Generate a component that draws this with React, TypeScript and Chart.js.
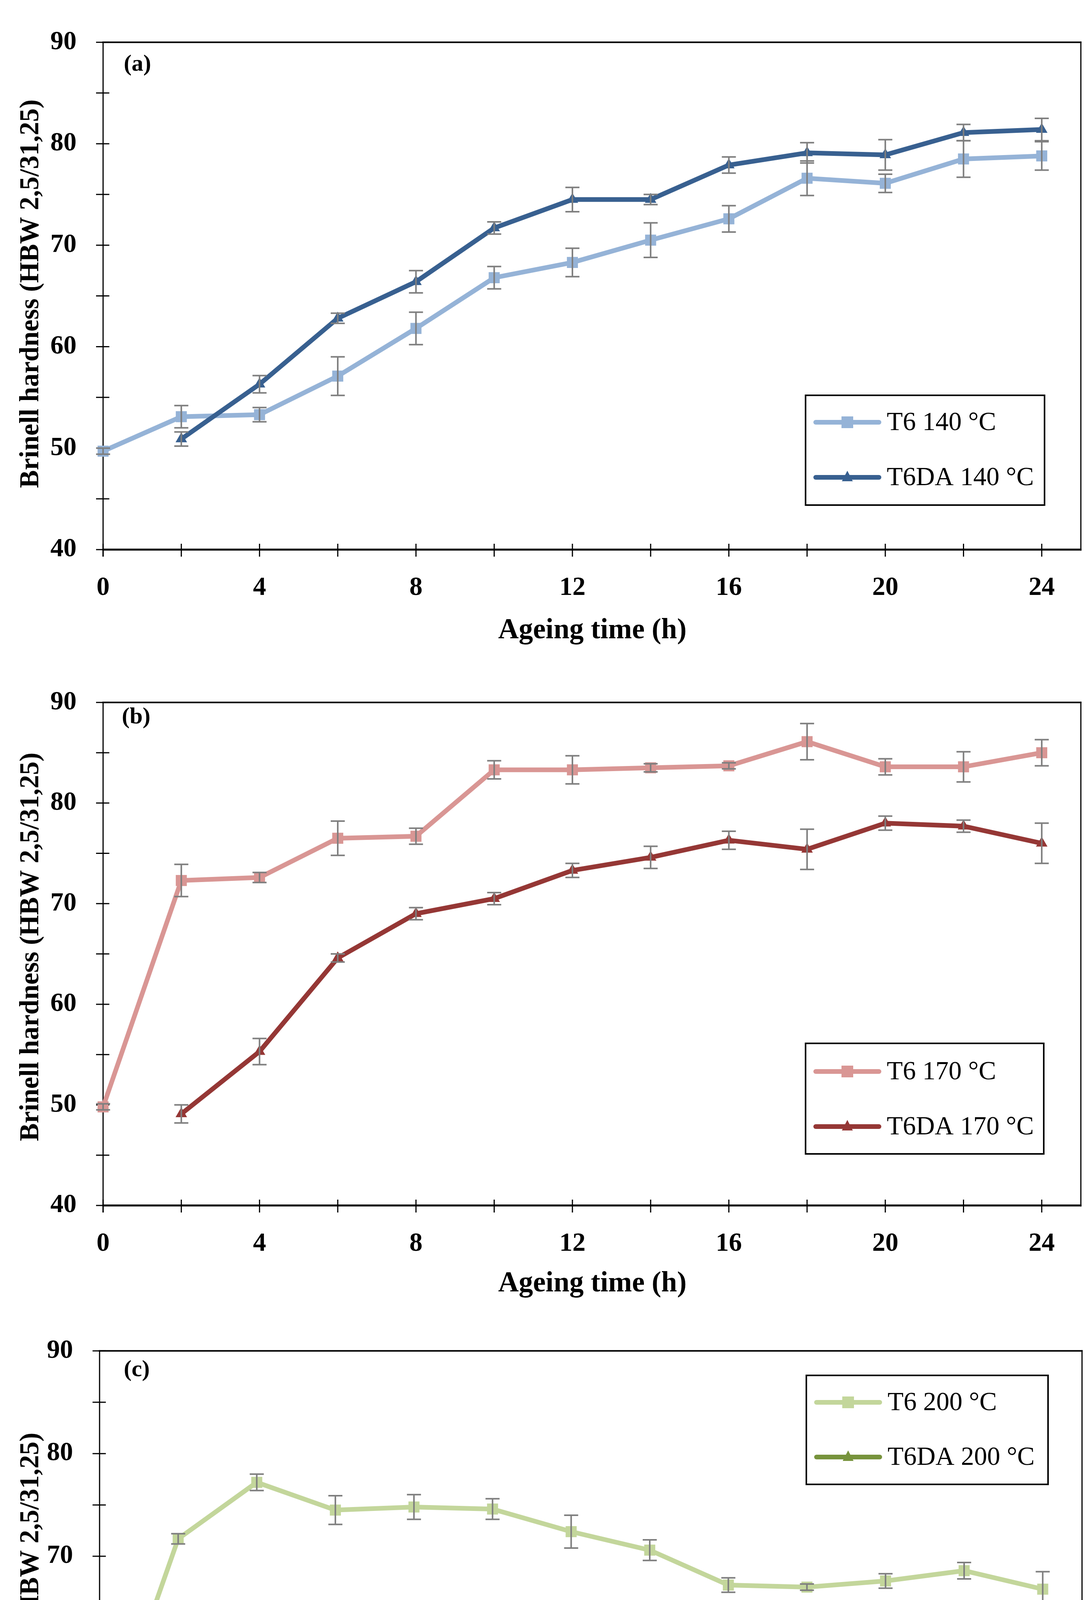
import React, { useEffect, useRef } from 'react';
import { Chart, registerables } from 'chart.js';

Chart.register(...registerables);

// ---------------- data ----------------
const hoursT6 = [0, 2, 4, 6, 8, 10, 12, 14, 16, 18, 20, 22, 24];
const hoursDA = [2, 4, 6, 8, 10, 12, 14, 16, 18, 20, 22, 24];

const xTickLabels = [0, 4, 8, 12, 16, 20, 24];
const xTickMarks = [0, 2, 4, 6, 8, 10, 12, 14, 16, 18, 20, 22, 24];
const yTickLabels = [40, 50, 60, 70, 80, 90];
const yTickMarks = [40, 45, 50, 55, 60, 65, 70, 75, 80, 85, 90];

const t6_140 = [49.7, 53.1, 53.3, 57.1, 61.8, 66.8, 68.3, 70.5, 72.6, 76.6, 76.1, 78.5, 78.8];
const t6_140Err = [0.3, 1.1, 0.7, 1.9, 1.6, 1.1, 1.4, 1.7, 1.3, 1.7, 0.9, 1.8, 1.4];
const t6da_140 = [50.9, 56.3, 62.8, 66.4, 71.7, 74.5, 74.5, 77.9, 79.1, 78.9, 81.1, 81.4];
const t6da_140Err = [0.7, 0.85, 0.5, 1.1, 0.6, 1.2, 0.5, 0.8, 1.0, 1.5, 0.8, 1.1];

const t6_170 = [49.8, 72.3, 72.6, 76.5, 76.7, 83.3, 83.3, 83.5, 83.7, 86.1, 83.6, 83.6, 85.0];
const t6_170Err = [0.3, 1.6, 0.5, 1.7, 0.8, 0.9, 1.4, 0.4, 0.3, 1.8, 0.8, 1.5, 1.3];
const t6da_170 = [49.1, 55.3, 64.6, 69.0, 70.5, 73.3, 74.6, 76.3, 75.4, 78.0, 77.7, 76.0];
const t6da_170Err = [0.9, 1.3, 0.4, 0.6, 0.6, 0.7, 1.1, 0.9, 2.0, 0.7, 0.6, 2.0];

const t6_200 = [49.9, 71.7, 77.2, 74.5, 74.8, 74.6, 72.4, 70.6, 67.2, 67.0, 67.6, 68.6, 66.8];
const t6_200Err = [0.3, 0.5, 0.8, 1.4, 1.2, 1.0, 1.6, 1.0, 0.7, 0.3, 0.7, 0.8, 1.7];
const t6da_200 = [46.0, 48.6, 56.8, 54.2, 54.1, 53.8, 52.6, 53.4, 54.2, 52.4, 54.1, 52.0];
const t6da_200Err = [0.6, 0.6, 0.9, 0.4, 1.0, 1.1, 0.6, 0.6, 0.4, 0.8, 0.8, 0.8];

const names140 = ['T6 140 \u00B0C', 'T6DA 140 \u00B0C'];
const names170 = ['T6 170 \u00B0C', 'T6DA 170 \u00B0C'];
const names200 = ['T6 200 \u00B0C', 'T6DA 200 \u00B0C'];

const xTitle = 'Ageing time (h)';
const yTitle = 'Brinell hardness (HBW 2,5/31,25)';

// ---------------- styling / layout ----------------
const W = 2794;
const FONT = "'Liberation Serif', 'Times New Roman', serif";
const ERR_COLOR = '#7f7f7f';

type Series = { name: string; color: string; style: 'rect' | 'triangle'; x: number[]; y: number[]; err: number[] };
type Panel = {
  tag: string;
  top: number;
  height: number;
  area: { top: number; bottom: number; left: number; right: number };
  xTitlePos: { x: number; y: number };
  yTitlePos: { x: number; y: number };
  tagPos: { x: number; y: number };
  legend: { x1: number; y1: number; x2: number; y2: number; rows: number[] };
  series: Series[];
};

const panels: Panel[] = [
  {
    tag: '(a)',
    top: 0,
    height: 1690,
    area: { top: 89, bottom: 1407, left: 264, right: 2768 },
    xTitlePos: { x: 1517, y: 1615 },
    yTitlePos: { x: 80, y: 752 },
    tagPos: { x: 317, y: 165 },
    legend: { x1: 2063, y1: 1012, x2: 2675, y2: 1293, rows: [1081, 1222] },
    series: [
      { name: names140[0], color: '#95b3d7', style: 'rect', x: hoursT6, y: t6_140, err: t6_140Err },
      { name: names140[1], color: '#386090', style: 'triangle', x: hoursDA, y: t6da_140, err: t6da_140Err },
    ],
  },
  {
    tag: '(b)',
    top: 1690,
    height: 1660,
    area: { top: 71, bottom: 1396, left: 264, right: 2768 },
    xTitlePos: { x: 1517, y: 1597 },
    yTitlePos: { x: 80, y: 734 },
    tagPos: { x: 312, y: 146 },
    legend: { x1: 2063, y1: 981, x2: 2673, y2: 1264, rows: [1053, 1194] },
    series: [
      { name: names170[0], color: '#d99694', style: 'rect', x: hoursT6, y: t6_170, err: t6_170Err },
      { name: names170[1], color: '#953735', style: 'triangle', x: hoursDA, y: t6da_170, err: t6da_170Err },
    ],
  },
  {
    tag: '(c)',
    top: 3350,
    height: 1693,
    area: { top: 81, bottom: 1423, left: 255, right: 2771 },
    xTitlePos: { x: 1430, y: 1610 },
    yTitlePos: { x: 80, y: 815 },
    tagPos: { x: 317, y: 157 },
    legend: { x1: 2065, y1: 171, x2: 2684, y2: 450, rows: [240, 380] },
    series: [
      { name: names200[0], color: '#c3d69b', style: 'rect', x: hoursT6, y: t6_200, err: t6_200Err },
      { name: names200[1], color: '#77933c', style: 'triangle', x: hoursDA, y: t6da_200, err: t6da_200Err },
    ],
  },
];

function drawMarker(ctx: CanvasRenderingContext2D, style: string, x: number, y: number, color: string) {
  ctx.save();
  ctx.fillStyle = color;
  if (style === 'rect') {
    ctx.fillRect(x - 15, y - 15, 30, 30);
  } else {
    ctx.beginPath();
    ctx.moveTo(x, y - 17);
    ctx.lineTo(x + 14, y + 10);
    ctx.lineTo(x - 14, y + 10);
    ctx.closePath();
    ctx.fill();
  }
  ctx.restore();
}

function makePlugin(p: Panel) {
  return {
    id: 'panelDecor' + p.tag,
    beforeDatasetsDraw(chart: any) {
      const ctx: CanvasRenderingContext2D = chart.ctx;
      const xs = chart.scales.x;
      const ys = chart.scales.y;
      const { left, right, top, bottom } = chart.chartArea;
      ctx.save();
      ctx.strokeStyle = '#000';
      ctx.lineCap = 'butt';
      // frame
      ctx.lineWidth = 4;
      ctx.beginPath(); ctx.moveTo(left - 2, top); ctx.lineTo(right + 1.5, top); ctx.stroke();
      ctx.lineWidth = 5;
      ctx.beginPath(); ctx.moveTo(left - 2, bottom); ctx.lineTo(right + 1.5, bottom); ctx.stroke();
      ctx.lineWidth = 3;
      ctx.beginPath(); ctx.moveTo(left, top); ctx.lineTo(left, bottom + 18); ctx.stroke();
      ctx.beginPath(); ctx.moveTo(right, top - 2); ctx.lineTo(right, bottom + 2.5); ctx.stroke();
      // tick marks crossing the axes
      ctx.lineWidth = 3;
      xTickMarks.forEach((v) => {
        const px = xs.getPixelForValue(v);
        ctx.beginPath(); ctx.moveTo(px, bottom - 15); ctx.lineTo(px, bottom + 18); ctx.stroke();
      });
      yTickMarks.forEach((v) => {
        const py = ys.getPixelForValue(v);
        ctx.beginPath(); ctx.moveTo(left - 18, py); ctx.lineTo(left + 16, py); ctx.stroke();
      });
      ctx.restore();
    },
    afterDatasetsDraw(chart: any) {
      const ctx: CanvasRenderingContext2D = chart.ctx;
      const xs = chart.scales.x;
      const ys = chart.scales.y;
      ctx.save();
      ctx.strokeStyle = ERR_COLOR;
      ctx.lineWidth = 4;
      ctx.lineCap = 'butt';
      p.series.forEach((s) => {
        s.y.forEach((v, i) => {
          const px = xs.getPixelForValue(s.x[i]);
          const hi = ys.getPixelForValue(v + s.err[i]);
          const lo = ys.getPixelForValue(v - s.err[i]);
          ctx.beginPath();
          ctx.moveTo(px, hi); ctx.lineTo(px, lo);
          ctx.moveTo(px - 18, hi); ctx.lineTo(px + 18, hi);
          ctx.moveTo(px - 18, lo); ctx.lineTo(px + 18, lo);
          ctx.stroke();
        });
      });
      ctx.restore();
    },
    afterDraw(chart: any) {
      const ctx: CanvasRenderingContext2D = chart.ctx;
      ctx.save();
      ctx.fillStyle = '#000';
      // axis titles
      ctx.font = `bold 73px ${FONT}`;
      ctx.textAlign = 'center';
      ctx.textBaseline = 'middle';
      ctx.fillText(xTitle, p.xTitlePos.x, p.xTitlePos.y);
      ctx.save();
      ctx.translate(p.yTitlePos.x, p.yTitlePos.y);
      ctx.rotate(-Math.PI / 2);
      ctx.font = `bold 69px ${FONT}`;
      ctx.fillText(yTitle, 0, 0);
      ctx.restore();
      // panel tag
      ctx.font = `bold 60px ${FONT}`;
      ctx.textAlign = 'left';
      ctx.fillText(p.tag, p.tagPos.x, p.tagPos.y);
      // legend
      const L = p.legend;
      ctx.fillStyle = '#fff';
      ctx.fillRect(L.x1, L.y1, L.x2 - L.x1, L.y2 - L.y1);
      ctx.strokeStyle = '#000';
      ctx.lineWidth = 4;
      ctx.strokeRect(L.x1, L.y1, L.x2 - L.x1, L.y2 - L.y1);
      p.series.forEach((s, i) => {
        const ry = L.rows[i];
        const lx1 = L.x1 + 26;
        const lx2 = L.x1 + 188;
        ctx.strokeStyle = s.color;
        ctx.lineWidth = 12;
        ctx.lineCap = 'round';
        ctx.beginPath(); ctx.moveTo(lx1, ry); ctx.lineTo(lx2, ry); ctx.stroke();
        drawMarker(ctx, s.style, (lx1 + lx2) / 2, ry, s.color);
        ctx.fillStyle = '#000';
        ctx.font = `67px ${FONT}`;
        ctx.textAlign = 'left';
        ctx.textBaseline = 'middle';
        ctx.fillText(s.name, L.x1 + 208, ry + 2);
      });
      ctx.restore();
    },
  };
}

function PanelChart({ p }: { p: Panel }) {
  const ref = useRef<HTMLCanvasElement | null>(null);
  useEffect(() => {
    if (!ref.current) return;
    const chart = new Chart(ref.current, {
      type: 'line',
      data: {
        datasets: p.series.map((s, i) => ({
          label: s.name,
          data: s.x.map((xv, j) => ({ x: xv, y: s.y[j] })),
          borderColor: s.color,
          backgroundColor: s.color,
          pointBackgroundColor: s.color,
          pointBorderColor: s.color,
          pointBorderWidth: 0,
          borderWidth: 12,
          pointStyle: s.style,
          pointRadius: s.style === 'rect' ? 20 : 17,
          tension: 0,
          fill: false,
          clip: false as any,
          order: i === 0 ? 2 : 1,
        })),
      },
      options: {
        animation: false,
        responsive: true,
        maintainAspectRatio: false,
        devicePixelRatio: 1,
        events: [],
        layout: { padding: { top: p.area.top, right: W - p.area.right, left: 0, bottom: 0 } },
        plugins: { legend: { display: false }, tooltip: { enabled: false } },
        scales: {
          x: {
            type: 'linear',
            min: 0,
            max: 25,
            afterBuildTicks: (ax: any) => { ax.ticks = xTickLabels.map((v) => ({ value: v })); },
            afterFit: (ax: any) => { ax.height = p.height - p.area.bottom; },
            grid: { display: false, drawTicks: false },
            border: { display: false },
            ticks: {
              autoSkip: false,
              maxRotation: 0,
              padding: 58,
              color: '#000',
              font: { family: FONT, size: 67, weight: 'bold' },
            },
          },
          y: {
            type: 'linear',
            min: 40,
            max: 90,
            afterBuildTicks: (ax: any) => { ax.ticks = yTickLabels.map((v) => ({ value: v })); },
            afterFit: (ax: any) => { ax.width = p.area.left; },
            grid: { display: false, drawTicks: false },
            border: { display: false },
            ticks: {
              autoSkip: false,
              padding: 68,
              color: '#000',
              font: { family: FONT, size: 67, weight: 'bold' },
            },
          },
        },
      } as any,
      plugins: [makePlugin(p)],
    });
    return () => chart.destroy();
  }, [p]);
  return (
    <div style={{ position: 'absolute', left: 0, top: p.top, width: W, height: p.height }}>
      <canvas ref={ref} />
    </div>
  );
}

export default function App() {
  return (
    <div style={{ position: 'absolute', left: 0, top: 0, width: W, height: 5043, background: '#fff' }}>
      {panels.map((p) => (
        <PanelChart key={p.tag} p={p} />
      ))}
    </div>
  );
}
